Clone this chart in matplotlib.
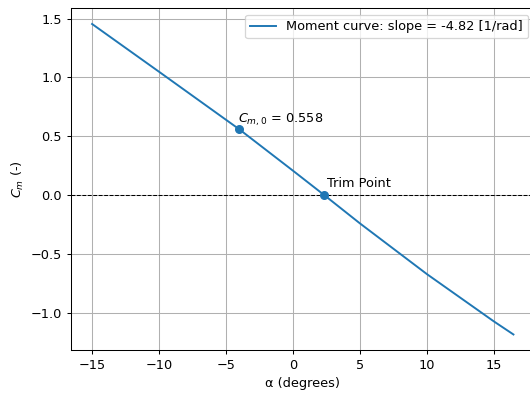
import matplotlib
matplotlib.use("Agg")
import matplotlib.pyplot as plt

# Pitching-moment curve samples (alpha in degrees, Cm dimensionless)
alpha_deg = [-15, -10, -4, 0, 2.33, 5, 10, 15, 16.46]
cm_values = [1.454, 1.048, 0.558, 0.207, 0.0, -0.241, -0.672, -1.074, -1.185]

slope_per_rad = -4.82
alpha_cm0 = -4.0
cm0 = 0.558
alpha_trim = 2.33

DPI = 92.5
fig = plt.figure(figsize=(530 / DPI, 394 / DPI), dpi=DPI)
ax = fig.add_axes([0.134, 0.1117, 0.8745, 0.8668])

ax.plot(alpha_deg, cm_values, color="C0",
        label=f"Moment curve: slope = {slope_per_rad:.2f} [1/rad]")
ax.axhline(0, color="black", linestyle="--", linewidth=0.8)

ax.plot([alpha_cm0], [cm0], "o", color="C0")
ax.annotate(f"$C_{{m,0}}$ = {cm0:.3f}", (alpha_cm0, cm0),
            xytext=(-1, 7), textcoords="offset pixels")

ax.plot([alpha_trim], [0], "o", color="C0")
ax.annotate("Trim Point", (alpha_trim, 0),
            xytext=(3, 8), textcoords="offset pixels")

ax.set_xlabel("α (degrees)")
ax.set_ylabel("$C_m$ (-)")
ax.grid(True)
ax.legend(loc="upper right")

fig.savefig("out.png", dpi=DPI)
